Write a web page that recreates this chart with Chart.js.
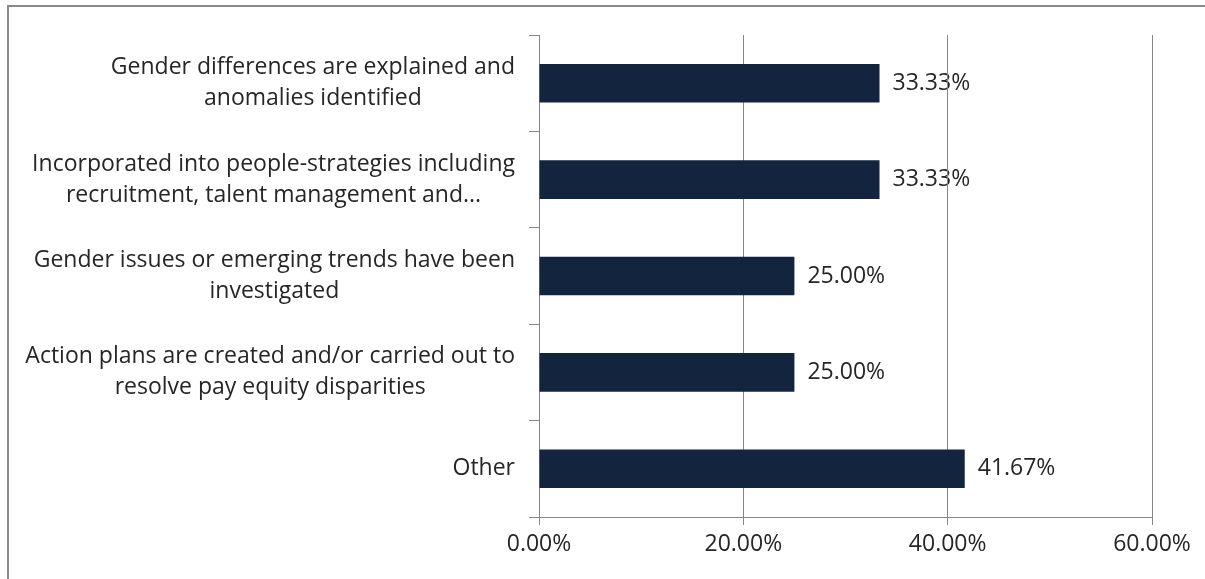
<!DOCTYPE html>
<html>
<head>
<meta charset="utf-8">
<script src="https://cdn.jsdelivr.net/npm/chart.js@4.4.1/dist/chart.umd.min.js"></script>
<style>
  html, body { margin: 0; padding: 0; background: #fff; }
  #wrap { position: relative; width: 1205px; height: 579px; }
</style>
</head>
<body>
<div id="wrap"><canvas id="gapChart"></canvas></div>
<script>
// categories, top to bottom
const categories = [
    ['Gender differences are explained and', 'anomalies identified'],
    ['Incorporated into people-strategies including', 'recruitment, talent management and...'],
    ['Gender issues or emerging trends have been', 'investigated'],
    ['Action plans are created and/or carried out to', 'resolve pay equity disparities'],
    ['Other']
];
const shares = [33.33, 33.33, 25.00, 25.00, 41.67];
const axisTicks = [0, 20, 40, 60];

const FONT = "'Open Sans', 'Liberation Sans', sans-serif";
const FONT_SIZE = 23;
const TEXT = '#262626';
const LINE = '#868686';

const pct = v => v.toFixed(2) + '%';

// outer frame: just the left and top edges, the rest runs off the canvas
const framePlugin = {
    id: 'frame',
    beforeDraw(chart) {
        const ctx = chart.ctx;
        ctx.save();
        ctx.strokeStyle = '#8a8a8a';
        ctx.lineWidth = 2;
        ctx.beginPath();
        ctx.moveTo(8, chart.height);
        ctx.lineTo(8, 6);
        ctx.lineTo(chart.width, 6);
        ctx.stroke();
        ctx.restore();
    }
};

// category labels: block right-aligned against the axis, lines centred inside it
const catLabelPlugin = {
    id: 'catLabels',
    afterDraw(chart) {
        const ctx = chart.ctx;
        const y = chart.scales.y;
        ctx.save();
        ctx.font = FONT_SIZE + 'px ' + FONT;
        ctx.fillStyle = TEXT;
        ctx.textAlign = 'center';
        ctx.textBaseline = 'middle';
        const lh = 31;
        categories.forEach((lines, i) => {
            const w = Math.max(...lines.map(l => ctx.measureText(l).width));
            const cx = y.right - 24 - w / 2;
            const cy = y.getPixelForValue(i);
            lines.forEach((l, j) => {
                ctx.fillText(l, cx, cy + (j - (lines.length - 1) / 2) * lh);
            });
        });
        ctx.restore();
    }
};

// value labels to the right of each bar, drawn under the grid lines
const valueLabelPlugin = {
    id: 'valueLabels',
    beforeDraw(chart) {
        const meta = chart.getDatasetMeta(0);
        if (!meta || !meta.data.length) return;
        const ctx = chart.ctx;
        ctx.save();
        ctx.font = FONT_SIZE + 'px ' + FONT;
        ctx.fillStyle = TEXT;
        ctx.textAlign = 'left';
        ctx.textBaseline = 'middle';
        meta.data.forEach((bar, i) => {
            ctx.fillText(pct(shares[i]), bar.x + 13, bar.y);
        });
        ctx.restore();
    }
};

const ctx = document.getElementById('gapChart');
new Chart(ctx, {
    type: 'bar',
    data: {
        labels: categories,
        datasets: [{
            data: shares,
            backgroundColor: '#13243f',
            borderWidth: 0,
            categoryPercentage: 1,
            barPercentage: 0.4
        }]
    },
    options: {
        indexAxis: 'y',
        responsive: true,
        maintainAspectRatio: false,
        animation: false,
        layout: { padding: { left: 10, right: 53, top: 35, bottom: 0 } },
        plugins: {
            legend: { display: false },
            tooltip: { enabled: false }
        },
        scales: {
            x: {
                min: 0,
                max: 60,
                afterBuildTicks(scale) {
                    scale.ticks = axisTicks.map(v => ({ value: v }));
                },
                afterFit(scale) { scale.height = 62; },
                grid: { color: LINE, lineWidth: 1, tickLength: 8 },
                border: { color: LINE, width: 1 },
                ticks: {
                    color: TEXT,
                    padding: 6,
                    font: { family: FONT, size: FONT_SIZE },
                    callback: v => pct(v)
                }
            },
            y: {
                afterFit(scale) { scale.width = 529; },
                grid: { drawOnChartArea: false, color: LINE, tickLength: 10, offset: true },
                border: { color: LINE, width: 1 },
                ticks: { display: false }
            }
        }
    },
    plugins: [framePlugin, valueLabelPlugin, catLabelPlugin]
});
</script>
</body>
</html>
